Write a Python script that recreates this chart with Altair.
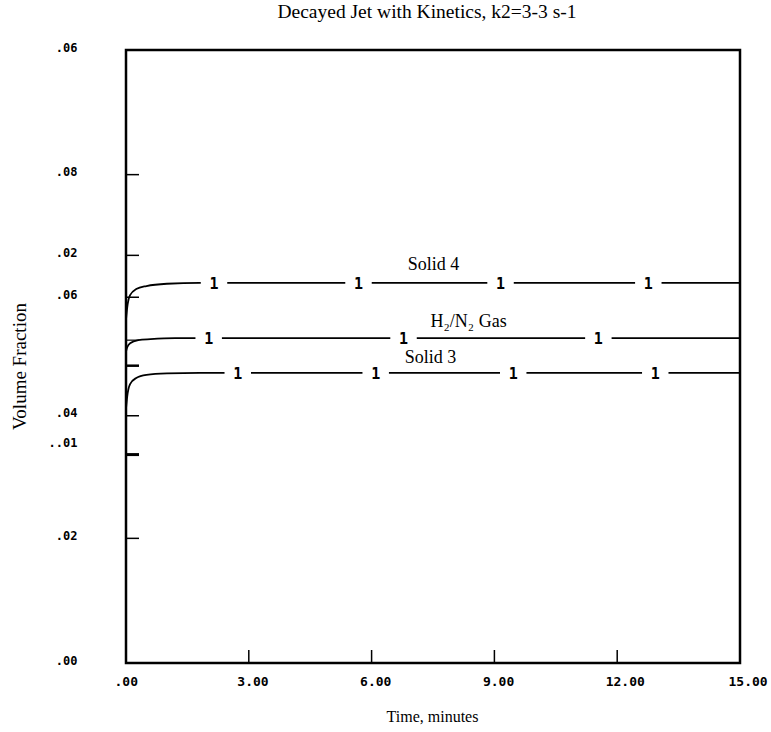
import altair as alt
import pandas as pd

# ---- data ----
t_solid4 = [0.0, 0.03, 0.1, 0.25, 0.5, 1.0, 1.8, 15.0]
v_solid4 = [0.0336, 0.0348, 0.0360, 0.0366, 0.0369, 0.03712, 0.0372, 0.0372]
t_gas = [0.0, 0.03, 0.1, 0.3, 0.6, 1.2, 15.0]
v_gas = [0.0305, 0.0309, 0.0313, 0.0316, 0.0317, 0.0318, 0.0318]
t_solid3 = [0.0, 0.03, 0.1, 0.25, 0.5, 1.0, 1.8, 15.0]
v_solid3 = [0.0249, 0.0261, 0.0273, 0.0279, 0.0282, 0.02835, 0.0284, 0.0284]

mark1_t = [2.15, 5.68, 9.15, 12.76, 2.02, 6.78, 11.54, 2.73, 6.10, 9.46, 12.93]
mark1_v = [0.0372] * 4 + [0.0318] * 3 + [0.0284] * 4

curve_names = ["Solid 4", "H\u2082/N\u2082 Gas", "Solid 3"]
name_t = [7.51, 8.37, 7.44]
name_v = [0.0390, 0.0334, 0.0299]

y_label_vals = [0.06, 0.0478, 0.0399, 0.0358, 0.0242, 0.0213, 0.0122, 0.0]
y_label_txt = [".06", ".08", ".02", ".06", ".04", "..01", ".02", ".00"]
y_tick_vals = [0.0478, 0.0399, 0.0358, 0.0316, 0.0291, 0.0242, 0.0204, 0.0122]
y_tick_width = [1.5, 1.5, 1.5, 1.2, 2.5, 1.5, 3.0, 1.5]
x_tick_vals = [3.0, 6.0, 9.0, 12.0]
x_label_vals = [0.0, 3.0, 6.0, 9.0, 12.0, 15.0]

W, H = 614, 613

rows = []
for name, ts, vs in [("s4", t_solid4, v_solid4), ("gas", t_gas, v_gas), ("s3", t_solid3, v_solid3)]:
    for t, v in zip(ts, vs):
        rows.append({"curve": name, "t": t, "v": v})
curves = pd.DataFrame(rows)
marks = pd.DataFrame({"t": mark1_t, "v": mark1_v, "txt": ["1"] * len(mark1_t)})
names = pd.DataFrame({"t": name_t, "v": name_v, "txt": curve_names})
yt = pd.DataFrame({"v": y_tick_vals, "w": y_tick_width})
xt = pd.DataFrame({"t": x_tick_vals})

label_map = "{" + ",".join(f"'{v:g}':'{s}'" for v, s in zip(y_label_vals, y_label_txt)) + "}"

xscale = alt.Scale(domain=[0, 15], nice=False, zero=False)
yscale = alt.Scale(domain=[0, 0.06], nice=False, zero=False)

MONO = "DejaVu Sans Mono"

xaxis = alt.Axis(values=x_label_vals, ticks=False, domain=False, grid=False,
                 labelExpr="datum.value == 0 ? '.00' : format(datum.value, '.2f')",
                 labelFont=MONO, labelFontWeight="bold", labelFontSize=13,
                 labelColor="black", labelAlign="left", labelOffset=-12, labelPadding=12,
                 labelFlush=False, labelOverlap=False,
                 title="Time, minutes", titleFont="Liberation Serif", titleFontSize=16,
                 titleFontWeight="normal", titleColor="black", titleX=306, titleY=53,
                 titleBaseline="middle", titleAlign="center")
yaxis = alt.Axis(values=y_label_vals, ticks=False, domain=False, grid=False,
                 labelExpr=f"{label_map}[''+datum.value]",
                 labelFont=MONO, labelFontWeight="bold", labelFontSize=12,
                 labelColor="black", labelPadding=49, labelOffset=-3, labelFlush=False,
                 labelOverlap=False, labelBaseline="middle",
                 title="Volume Fraction", titleFont="Liberation Serif", titleFontSize=19,
                 titleFontWeight="normal", titleColor="black", titleX=-107, titleY=316,
                 titleAngle=270, titleBaseline="middle", titleAlign="center")

lines = alt.Chart(curves).mark_line(color="black", strokeWidth=1.8, interpolate="monotone").encode(
    x=alt.X("t:Q", scale=xscale, axis=xaxis),
    y=alt.Y("v:Q", scale=yscale, axis=yaxis),
    detail="curve:N",
)

gaps = alt.Chart(marks).mark_point(
    shape="M-1,-0.2L1,-0.2L1,0.2L-1,0.2Z", filled=True, color="white", opacity=1, size=700
).encode(x=alt.X("t:Q", scale=xscale), y=alt.Y("v:Q", scale=yscale))

ones = alt.Chart(marks).mark_text(
    font=MONO, fontWeight="bold", fontSize=15, color="black", baseline="middle", dy=1
).encode(x=alt.X("t:Q", scale=xscale), y=alt.Y("v:Q", scale=yscale), text="txt:N")

name_text = alt.Chart(names).mark_text(
    font="Liberation Serif", fontSize=18, color="black", baseline="middle"
).encode(x=alt.X("t:Q", scale=xscale), y=alt.Y("v:Q", scale=yscale), text="txt:N")

ytick_rules = alt.Chart(yt).mark_rule(color="black").encode(
    y=alt.Y("v:Q", scale=yscale), x=alt.value(0), x2=alt.value(13),
    strokeWidth=alt.StrokeWidth("w:Q", scale=None),
)
xtick_rules = alt.Chart(xt).mark_rule(color="black", strokeWidth=1.5).encode(
    x=alt.X("t:Q", scale=xscale), y=alt.value(H), y2=alt.value(H - 13),
)

chart = alt.layer(lines, gaps, ones, name_text, ytick_rules, xtick_rules).properties(
    width=W, height=H,
    title=alt.TitleParams("Decayed Jet with Kinetics, k2=3-3 s-1", font="Liberation Serif",
                          fontSize=19.5, fontWeight="normal", color="black", anchor="middle",
                          offset=19, dx=-6),
    autosize=alt.AutoSizeParams(type="none"),
    padding={"left": 126, "top": 50, "right": 31, "bottom": 69},
    background="white",
).configure_view(stroke="black", strokeWidth=2.5)

chart.save("out.html", embed_options={"renderer": "svg", "actions": False})
